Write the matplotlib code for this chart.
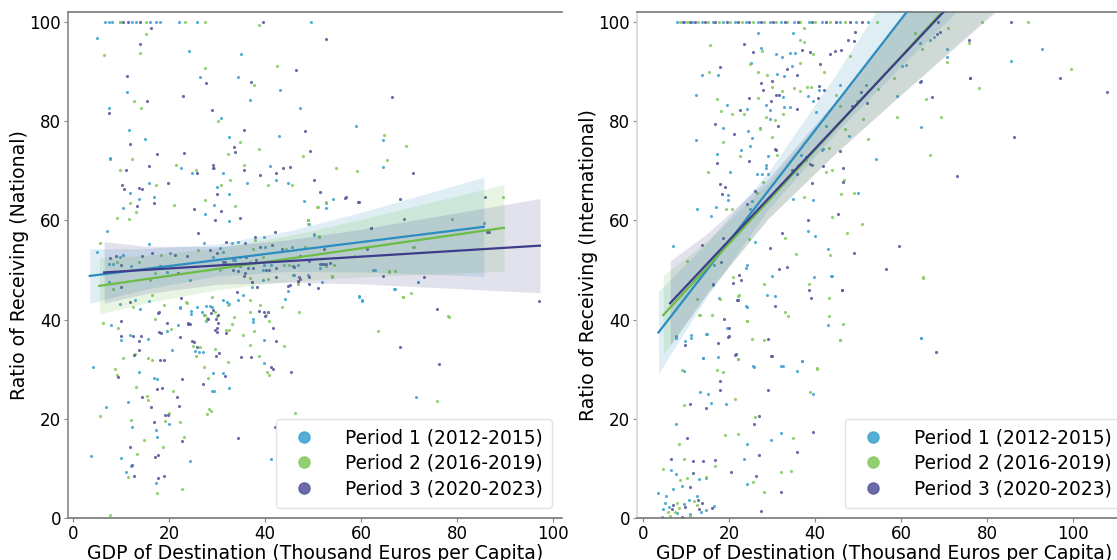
import numpy as np
import matplotlib
matplotlib.use("Agg")
from matplotlib import pyplot as plt
from matplotlib.lines import Line2D

# ---- scatter data (GDP in thousand euros per capita, ratio in %) ----
# National panel
nat_p1 = [(6.7, 100), (7.4, 100), (8.1, 100), (9.8, 100), (12.2, 100), (13.1, 100), (16.0, 100), (17.4, 100),
          (18.1, 100), (22.1, 100), (25.9, 100), (49.7, 100), (5.1, 96.7), (24.2, 94.2), (35.1, 93.5), (26.5, 88.8),
          (34.4, 88.8), (43.2, 86.2), (11.3, 85.8), (36.9, 84.3), (7.6, 82.7), (47.4, 82.7), (30.8, 80.6), (11.7, 78.3),
          (15.1, 76.3), (22.6, 70.6), (7.8, 72.6), (7.8, 72.3), (32.6, 76.9), (43.0, 77.1), (59.0, 79.0), (64.5, 76.1),
          (64.6, 70.8), (31.2, 69.5), (24.7, 69.5), (41.1, 71.0), (42.4, 68.2), (44.9, 67.5), (36.2, 67.5), (32.6, 65.3),
          (30.1, 66.8), (15.8, 67.5), (11.9, 65.6), (16.9, 64.7), (13.8, 64.4), (10.4, 62.5), (29.3, 63.1), (27.6, 61.3),
          (32.6, 59.8), (48.2, 64.0), (52.7, 62.5), (52.7, 63.5), (54.2, 64.4), (85.6, 59.4), (50.2, 57.3),
          (3.75, 12.4), (4.2, 30.4), (6.8, 22.4), (7.9, 39.0), (9.9, 35.9), (9.9, 12.0), (9.8, 43.2), (11.4, 23.3),
          (12.1, 10.5), (11.1, 9.2), (12.3, 18.3), (11.8, 36.8), (13.75, 29.4), (15.6, 36.1), (16.8, 28.3), (17.5, 28.1),
          (17.4, 17.7), (17.6, 16.4), (17.4, 7.1), (20.0, 19.0), (24.4, 11.4), (20.7, 33.9), (19.6, 37.7), (21.9, 39.0),
          (22.4, 42.4), (24.6, 41.8), (24.6, 41.1), (25.8, 42.6), (25.5, 33.7), (26.2, 33.5), (27.1, 33.5), (26.9, 41.6),
          (27.8, 39.8), (27.7, 42.8), (28.5, 42.7), (29.0, 42.5), (29.2, 29.2), (28.9, 25.7), (29.3, 25.6), (31.3, 29.3),
          (32.6, 26.3), (32.1, 43.5), (32.6, 43.2), (34.4, 44.0), (37.6, 40.1), (37.6, 39.6), (39.9, 35.8), (39.8, 31.3),
          (41.25, 11.9), (44.2, 44.1), (44.9, 45.8), (45.9, 49.0), (49.0, 48.9), (51.9, 47.6), (59.6, 44.8), (60.2, 44.0),
          (62.6, 50.0), (67.0, 46.2), (71.9, 47.6), (71.5, 24.3), (30.6, 54.4), (31.3, 53.7), (33.1, 55.4), (34.3, 55.6),
          (39.7, 56.7), (40.1, 54.6), (45.7, 54.6), (46.9, 51.1), (41.2, 51.0), (39.8, 51.1), (39.5, 50.0), (34.8, 52.7),
          (33.8, 52.0), (33.4, 52.1), (37.2, 47.6), (37.4, 46.6), (46.0, 49.0), (51.4, 50.3), (50.2, 57.1), (62.9, 50.0),
          (66.9, 46.2), (59.6, 44.6), (60.3, 43.7), (48.9, 60.1), (49.1, 59.2), (71.9, 47.5), (5.1, 53.7), (7.4, 51.3),
          (9.8, 52.7), (10.5, 53.0), (8.4, 51.3), (7.6, 47.5), (12.0, 50.7), (15.8, 55.2), (20.3, 53.5), (19.5, 49.5),
          (24.4, 47.9), (27.2, 55.4), (29.2, 52.7), (12.9, 43.9), (14.0, 42.1), (15.8, 43.8), (22.3, 42.5), (27.2, 40.9),
          (31.3, 43.9), (35.5, 44.9), (39.65, 47.9), (7.0, 57.9)]
nat_p2 = [(9.8, 100), (15.2, 100), (23.3, 100), (27.6, 100), (38.8, 99.4), (6.5, 93.3), (15.2, 97.6), (13.9, 93.7),
          (27.6, 90.7), (42.6, 91.1), (37.8, 87.2), (12.8, 84.0), (14.2, 82.7), (30.3, 80.0), (21.5, 71.2), (9.8, 70.2),
          (12.4, 72.4), (34.9, 75.8), (32.4, 73.4), (38.8, 74.4), (47.9, 72.9), (64.9, 77.3), (65.4, 72.2), (69.4, 74.9),
          (54.9, 70.6), (59.2, 70.0), (29.4, 70.5), (25.6, 70.1), (35.7, 71.2), (45.7, 67.2), (40.6, 67.2), (32.8, 68.2),
          (30.8, 67.1), (17.4, 67.2), (11.8, 63.4), (13.2, 61.7), (27.6, 64.2), (33.8, 62.9), (21.0, 63.0), (9.1, 60.5),
          (11.7, 60.2), (51.0, 62.6), (79.0, 60.3), (89.6, 64.7), (71.0, 54.6), (49.0, 59.2), (49.0, 60.0), (51.3, 56.8),
          (5.6, 20.5), (6.25, 39.3), (7.8, 0.7), (8.8, 30.0), (9.2, 28.9), (9.3, 38.3), (10.4, 32.3), (11.5, 8.3),
          (12.1, 19.8), (13.3, 12.9), (13.0, 33.1), (13.1, 26.4), (15.4, 24.5), (15.6, 23.8), (14.7, 15.7), (15.6, 32.2),
          (16.4, 31.9), (17.6, 5.1), (18.8, 14.3), (19.1, 19.5), (20.0, 21.2), (20.9, 25.7), (22.3, 19.3), (23.2, 16.4),
          (22.7, 5.9), (17.1, 40.1), (20.5, 38.0), (23.5, 43.5), (25.0, 34.6), (26.4, 34.4), (25.6, 32.7), (27.6, 41.0),
          (27.8, 40.0), (27.3, 30.5), (28.1, 28.3), (28.4, 21.9), (27.9, 20.9), (28.8, 21.6), (29.6, 34.0), (30.0, 40.8),
          (29.6, 41.5), (31.8, 37.8), (32.6, 37.9), (32.4, 31.4), (33.1, 39.1), (33.5, 40.6), (35.5, 36.8), (37.8, 37.6),
          (36.9, 34.9), (36.8, 41.5), (38.8, 32.6), (38.96, 43.0), (40.3, 41.0), (40.9, 39.8), (40.8, 28.8), (40.4, 29.4),
          (44.0, 34.6), (46.3, 21.1), (47.1, 41.5), (43.5, 42.5), (46.8, 47.6), (46.9, 47.1), (53.9, 48.8), (54.4, 51.1),
          (63.6, 37.6), (65.9, 49.7), (67.0, 49.8), (68.75, 44.6), (70.4, 45.3), (75.8, 23.5), (78.3, 40.6), (37.9, 56.0),
          (37.6, 54.2), (39.65, 52.7), (44.4, 54.2), (48.4, 54.6), (45.0, 51.1), (43.9, 51.1), (36.9, 51.7), (32.4, 51.3),
          (33.8, 50.7), (30.6, 50.0), (36.9, 48.3), (54.0, 48.6), (52.7, 50.8), (51.3, 56.7), (52.7, 63.6), (50.9, 62.6),
          (65.9, 49.5), (58.5, 52.8), (70.9, 54.6), (78.9, 60.2), (68.7, 44.6), (78.2, 40.8), (9.1, 51.7), (8.4, 46.1),
          (13.75, 51.7), (18.3, 53.0), (17.1, 49.3), (16.0, 47.9), (26.0, 54.0), (12.6, 42.6), (16.4, 44.9), (19.0, 42.9),
          (23.7, 43.3), (28.9, 44.6), (28.0, 40.4), (32.4, 42.9), (36.9, 43.9), (40.7, 48.2), (5.7, 55.5)]
nat_p3 = [(10.5, 100), (11.5, 100), (14.0, 100), (39.5, 100), (16.3, 98.8), (13.9, 95.6), (46.5, 90.3), (52.8, 96.5),
          (11.3, 89.0), (27.7, 87.6), (37.1, 87.8), (66.5, 84.8), (15.5, 84.1), (23.0, 85.1), (7.4, 81.7), (29.0, 82.2),
          (11.8, 75.3), (17.6, 73.3), (23.1, 73.5), (15.8, 71.0), (11.1, 70.1), (35.6, 78.3), (33.5, 74.8), (33.7, 73.8),
          (48.4, 78.0), (49.4, 74.0), (70.9, 69.6), (29.1, 71.2), (29.1, 70.5), (25.9, 69.6), (35.6, 70.2), (42.3, 69.5),
          (43.7, 70.5), (45.2, 70.7), (39.0, 69.1), (30.0, 65.3), (19.9, 67.6), (13.75, 66.5), (14.4, 66.3), (10.3, 67.2),
          (10.6, 66.4), (16.9, 63.4), (13.3, 62.8), (25.2, 62.2), (30.8, 61.8), (29.6, 60.0), (34.8, 60.4), (51.4, 65.7),
          (50.2, 68.1), (56.8, 64.7), (59.6, 63.8), (68.2, 64.4), (68.9, 60.3), (62.0, 58.5), (85.8, 64.7), (86.3, 57.6),
          (42.1, 57.6), (9.4, 28.5), (10.1, 39.8), (9.9, 36.7), (11.9, 14.4), (12.8, 8.5), (12.2, 10.7), (12.6, 36.7),
          (14.1, 36.7), (13.75, 35.6), (12.7, 32.8), (13.7, 33.9), (14.4, 24.3), (17.6, 26.1), (18.5, 26.2), (16.3, 22.4),
          (16.8, 19.4), (17.1, 12.2), (17.8, 12.7), (17.7, 8.1), (18.9, 8.5), (19.2, 20.8), (19.7, 20.7), (21.6, 24.3),
          (22.1, 22.6), (22.7, 15.5), (22.7, 28.1), (18.9, 31.9), (18.1, 31.9), (18.3, 37.2), (17.9, 37.5), (18.0, 41.5),
          (19.6, 39.4), (22.2, 36.4), (24.0, 39.1), (24.0, 39.4), (24.8, 35.7), (25.3, 35.4), (25.8, 34.4), (28.2, 40.2),
          (28.7, 41.3), (27.1, 27.0), (29.6, 37.8), (30.0, 37.5), (29.9, 32.6), (29.8, 40.2), (30.2, 39.3), (30.1, 38.2),
          (30.5, 33.2), (31.6, 28.7), (31.8, 37.3), (34.3, 16.2), (35.1, 32.4), (37.1, 32.5), (38.7, 41.8), (39.8, 41.5),
          (40.1, 40.7), (40.6, 41.5), (41.25, 30.5), (41.6, 30.0), (41.6, 38.3), (42.2, 35.6), (42.1, 18.4), (45.5, 29.4),
          (45.2, 47.0), (44.9, 46.7), (47.1, 48.5), (47.4, 48.2), (49.2, 47.1), (51.0, 46.3), (51.9, 51.3), (52.8, 51.3),
          (64.6, 48.8), (68.2, 34.4), (73.1, 48.6), (75.8, 42.2), (76.2, 31.0), (97.2, 43.7), (31.8, 55.6), (35.8, 55.4),
          (37.9, 56.7), (38.96, 54.6), (36.0, 52.7), (38.1, 52.0), (41.4, 55.0), (43.6, 54.2), (47.3, 52.8), (49.2, 51.8),
          (45.9, 50.8), (46.1, 50.5), (42.4, 50.3), (40.2, 50.0), (40.9, 50.0), (37.6, 50.3), (36.5, 50.3), (31.7, 51.7),
          (31.2, 51.7), (33.3, 50.0), (34.4, 49.8), (34.9, 50.7), (35.7, 48.8), (37.4, 47.6), (35.8, 49.4), (42.3, 48.5),
          (46.8, 47.8), (49.1, 48.6), (51.5, 51.3), (52.4, 51.3), (53.5, 51.4), (52.4, 54.2), (62.0, 58.4), (61.3, 54.2),
          (56.7, 64.6), (59.4, 63.8), (86.7, 57.6), (7.7, 52.5), (8.9, 52.9), (10.1, 51.0), (10.1, 46.5), (14.3, 52.8),
          (16.4, 53.4), (21.2, 53.0), (18.1, 50.7), (21.9, 49.3), (23.7, 52.8), (26.1, 57.4), (28.6, 54.0), (30.0, 53.4),
          (24.4, 39.2), (11.9, 43.6), (17.8, 41.3), (22.6, 44.4), (29.2, 41.9), (30.3, 40.9), (34.1, 45.6), (38.3, 46.5)]

# International panel
int_p1 = [(7.8, 100), (9.5, 100), (11.5, 100), (13.8, 100), (16.2, 100), (18.5, 100), (21.4, 100), (24.0, 100),
          (26.8, 100), (29.5, 100), (32.0, 100), (35.2, 100), (38.6, 100), (41.7, 100), (45.8, 100), (49.5, 100),
          (52.3, 100), (92.7, 94.5), (85.5, 92.1), (64.6, 78.8), (59.0, 85.1), (54.2, 72.3), (70.8, 94.5), (70.8, 93.0),
          (67.6, 97.0), (64.4, 95.8), (64.6, 36.2), (43.8, 48.8), (43.1, 39.0), (39.5, 25.0), (37.0, 31.7), (35.9, 29.7),
          (32.0, 17.1), (32.1, 30.6), (29.8, 15.7), (24.1, 6.8), (24.2, 14.9), (23.6, 11.9), (25.7, 30.5), (24.1, 42.6),
          (17.4, 32.4), (16.3, 47.0), (19.3, 22.9), (14.7, 37.0), (14.0, 32.3), (11.2, 36.3), (7.7, 36.3), (13.3, 25.5),
          (15.0, 24.9), (15.9, 23.1), (7.7, 18.9), (6.5, 9.6), (7.7, 8.9), (13.0, 7.9), (14.7, 8.0), (3.6, 5.1),
          (5.3, 4.4), (4.7, 1.8), (4.3, 0.2), (14.7, 1.6), (10.6, 3.6), (5.0, 3.0), (6.0, 2.2), (8.0, 1.0), (9.5, 2.8),
          (11.0, 0.8), (12.5, 4.5), (16.5, 2.5), (7.0, 5.8), (9.0, 6.5), (13.5, 1.2),
          (26.7, 97.7), (35.0, 97.7), (27.4, 94.7), (30.9, 93.5), (32.3, 93.0), (34.3, 93.8), (35.4, 93.8), (25.0, 91.8),
          (13.7, 89.3), (17.4, 89.4), (31.2, 89.5), (34.7, 91.2), (32.9, 89.0), (32.6, 84.8), (40.9, 86.2), (38.3, 85.1),
          (39.5, 84.1), (12.3, 85.3), (19.6, 83.3), (24.1, 82.5), (28.6, 83.2), (29.6, 82.2), (32.9, 82.8), (34.3, 82.8),
          (29.5, 80.4), (27.3, 78.6), (18.7, 78.6), (12.3, 76.2), (22.8, 74.2), (17.1, 73.4), (20.3, 69.7), (24.5, 78.0),
          (25.3, 76.7), (24.9, 75.0), (29.1, 73.0), (28.5, 71.2), (28.5, 70.5), (19.8, 64.2), (19.8, 65.2), (16.9, 62.6),
          (12.6, 62.2), (15.7, 60.8), (26.6, 69.3), (27.7, 69.3), (29.1, 69.3), (25.3, 63.9), (24.9, 62.2), (36.7, 73.1),
          (41.8, 74.4), (41.6, 74.2), (34.9, 64.3), (39.6, 64.1), (50.1, 65.6), (40.2, 81.8), (42.5, 79.0), (45.8, 87.3),
          (47.9, 77.0), (51.8, 87.2), (60.2, 91.1), (61.2, 91.3), (66.7, 96.3), (6.9, 54.9), (9.7, 35.6),
          (7.7, 36.6), (11.2, 36.8), (14.8, 37.0), (19.6, 38.4), (14.0, 32.2), (25.6, 30.6), (32.5, 30.6),
          (36.9, 31.6), (9.5, 29.6), (16.5, 50.9), (26.1, 55.7), (23.9, 50.3), (24.3, 51.1), (17.6, 44.4),
          (23.9, 42.8), (28.8, 44.9), (30.6, 44.8), (30.1, 48.8), (38.4, 57.8), (39.9, 56.9), (39.8, 48.5), (43.1, 54.2),
          (43.9, 48.7), (64.6, 36.3)]
int_p2 = [(8.6, 100), (10.3, 100), (12.7, 100), (15.0, 100), (17.7, 100), (20.2, 100), (23.0, 100), (25.5, 100),
          (28.2, 100), (31.0, 100), (33.6, 100), (36.5, 100), (40.0, 100), (43.5, 100), (47.0, 100), (54.4, 100),
          (78.9, 100), (89.6, 100), (99.5, 90.5), (75.8, 95.7), (78.1, 86.6), (66.8, 73.1), (65.8, 84.5), (69.2, 80.8),
          (59.1, 80.8), (70.8, 92.0), (70.9, 98.7), (64.9, 97.7), (65.2, 48.3), (46.4, 39.1), (45.9, 35.8), (43.2, 44.3),
          (38.9, 25.4), (40.4, 30.1), (34.9, 16.1), (34.4, 9.4), (32.0, 9.2), (28.2, 35.8), (26.1, 20.3), (25.6, 7.2),
          (28.2, 5.2), (25.4, 36.1), (24.3, 39.8), (22.2, 44.8), (22.2, 44.0), (21.0, 48.5), (22.1, 32.0), (21.5, 23.9),
          (22.1, 16.9), (17.9, 44.2), (18.6, 29.5), (19.0, 16.8), (13.2, 41.0), (16.1, 41.0), (9.1, 29.8), (9.5, 22.8),
          (8.4, 14.9), (9.6, 11.8), (16.8, 10.5), (4.7, 9.9), (10.2, 8.0), (14.6, 8.2), (8.6, 7.7), (5.7, 1.3),
          (7.4, 1.2), (6.2, 0.5), (10.9, 0.5), (12.6, 2.6), (7.8, 3.0), (8.4, 2.0), (11.8, 3.4),
          (15.6, 95.4), (37.5, 98.7), (36.4, 96.3), (37.4, 96.0), (27.7, 94.2), (39.6, 93.6), (42.0, 89.9), (48.2, 93.2),
          (24.9, 91.5), (15.3, 89.9), (26.7, 90.0), (28.8, 89.4), (36.5, 91.7), (30.1, 86.9), (32.3, 86.0), (35.2, 86.6),
          (36.6, 86.0), (38.1, 86.9), (39.0, 86.8), (17.2, 84.4), (18.2, 82.1), (20.6, 81.5), (23.6, 81.5), (26.8, 84.6),
          (32.6, 81.5), (28.5, 80.9), (30.7, 80.3), (22.6, 73.0), (18.7, 75.7), (15.2, 69.7), (30.1, 76.9), (31.1, 73.1),
          (27.2, 78.4), (19.3, 62.3), (20.7, 62.3), (28.0, 67.8), (26.6, 65.5), (37.8, 72.2), (36.0, 71.2), (43.2, 74.6),
          (42.5, 69.7), (43.9, 70.1), (46.8, 68.1), (37.5, 64.7), (46.0, 65.4), (49.0, 65.6), (44.9, 85.2), (45.7, 83.1),
          (46.9, 78.4), (49.7, 84.1), (51.1, 80.4), (52.3, 76.5), (54.6, 86.4), (58.4, 88.6), (63.3, 97.7), (64.8, 94.6),
          (10.3, 51.9), (12.5, 44.1), (13.1, 41.0), (22.0, 32.1), (40.5, 30.2), (17.3, 29.8), (24.7, 56.3), (22.4, 44.9),
          (24.3, 39.8), (28.2, 47.2), (33.0, 56.5), (33.0, 41.6), (33.7, 40.7), (35.5, 53.2), (38.6, 47.2), (44.0, 60.6),
          (47.4, 57.5), (43.5, 53.0), (43.3, 40.8), (45.8, 35.9), (51.0, 59.3), (65.1, 48.5)]
int_p3 = [(9.2, 100), (11.0, 100), (12.0, 100), (14.5, 100), (16.8, 100), (19.5, 100), (22.2, 100), (24.6, 100),
          (27.5, 100), (30.2, 100), (33.0, 100), (36.0, 100), (39.2, 100), (42.5, 100), (44.8, 100), (48.2, 100),
          (51.0, 100), (68.7, 100), (85.7, 100), (97.1, 88.6), (108.0, 85.8), (86.3, 76.9), (73.1, 69.0), (75.8, 96.4),
          (76.1, 88.6), (64.6, 88.0), (67.3, 84.9), (69.1, 98.0), (68.1, 33.4), (46.3, 46.0), (39.5, 17.3), (35.7, 13.4),
          (32.2, 5.2), (29.1, 36.0), (29.8, 32.7), (29.1, 25.9), (26.9, 20.6), (25.7, 19.0), (26.9, 12.7), (26.2, 8.5),
          (27.4, 1.5), (20.5, 9.2), (22.0, 44.0), (22.7, 48.0), (21.6, 33.0), (19.9, 36.6), (19.9, 38.2), (17.4, 35.3),
          (17.9, 27.7), (17.9, 25.8), (9.8, 34.9), (14.7, 22.2), (11.0, 22.9), (10.2, 16.1), (6.4, 11.8), (11.7, 11.4),
          (14.0, 11.4), (16.7, 11.6), (11.6, 9.1), (10.9, 6.3), (6.7, 1.9), (9.1, 0.3), (13.0, 1.8), (13.7, 3.0),
          (16.0, 2.1), (9.8, 2.2), (7.0, 2.6), (12.7, 3.6),
          (23.6, 95.5), (49.3, 97.9), (47.6, 96.3), (49.0, 96.1), (25.5, 93.9), (37.0, 94.4), (38.8, 93.9), (41.2, 91.5),
          (43.4, 93.5), (44.7, 94.1), (46.1, 94.3), (17.9, 91.0), (33.4, 90.5), (35.7, 89.4), (30.1, 88.0), (28.0, 86.2),
          (27.4, 87.6), (31.0, 85.3), (31.6, 85.2), (41.0, 87.1), (42.0, 86.2), (40.6, 84.6), (24.7, 84.6), (22.5, 82.2),
          (29.8, 84.1), (35.7, 82.4), (31.5, 79.0), (16.7, 79.5), (21.2, 77.4), (17.1, 71.6), (24.7, 72.0), (30.8, 74.4),
          (31.0, 74.2), (17.8, 67.3), (19.1, 66.8), (18.4, 65.3), (26.0, 66.0), (24.1, 63.2), (34.7, 70.2), (35.7, 69.3),
          (38.8, 71.4), (39.4, 71.2), (38.0, 72.8), (41.8, 70.9), (45.8, 74.0), (46.5, 70.6), (39.4, 67.6), (46.6, 67.8),
          (48.7, 83.1), (50.8, 85.8), (52.1, 83.6), (68.3, 97.6), (64.4, 87.8), (76.0, 88.6),
          (13.8, 55.0), (16.3, 47.2), (18.8, 40.2), (19.8, 36.5), (21.5, 32.9), (29.9, 32.6), (18.1, 51.6),
          (18.5, 56.5), (22.4, 48.9), (21.0, 47.4), (21.9, 44.0), (30.8, 42.7), (29.6, 54.5), (32.4, 57.5), (31.7, 50.2),
          (33.6, 50.6), (38.4, 60.0), (38.7, 45.9), (39.1, 44.4), (45.3, 61.3), (49.1, 53.5), (46.3, 45.9), (56.6, 50.2),
          (59.5, 54.8)]

# ---- fitted lines and 95% bands ----
nat_fit = {
    "p1": dict(line_x=[3.5, 85.6], line_y=[48.8, 58.7], band_x=[3.5, 15, 30, 45, 60, 85.6],
               lo=[43.3, 46.1, 48.8, 49.7, 49.6, 48.7], hi=[54.3, 54.3, 55.2, 57.9, 61.6, 68.7]),
    "p2": dict(line_x=[5.5, 89.8], line_y=[46.8, 58.5], band_x=[5.5, 15, 30, 45, 60, 89.8],
               lo=[41.1, 43.3, 46.0, 47.7, 48.6, 49.75], hi=[52.5, 52.9, 54.4, 56.9, 60.2, 67.25]),
    "p3": dict(line_x=[6.5, 97.3], line_y=[49.5, 54.9], band_x=[6.5, 15, 30, 45, 60, 97.3],
               lo=[43.3, 45.2, 47.1, 47.5, 47.2, 45.4], hi=[55.7, 54.8, 54.7, 56.1, 58.2, 64.4]),
}
int_fit = {
    "p1": dict(line_x=[3.6, 75], line_y=[37.4, 117.3], band_x=[3.6, 15, 29, 45, 60, 75],
               lo=[29.1, 44.8, 62.1, 77.8, 91.1, 103.8], hi=[45.7, 55.6, 69.5, 89.6, 109.9, 130.8]),
    "p2": dict(line_x=[4.7, 95], line_y=[40.9, 126.0], band_x=[4.7, 15, 29, 45, 60, 80, 95],
               lo=[32.9, 45.3, 60.2, 73.7, 85.4, 100.9, 112.5], hi=[48.9, 55.9, 67.4, 84.1, 100.6, 122.9, 139.5]),
    "p3": dict(line_x=[6.3, 95], line_y=[43.3, 125.2], band_x=[6.3, 15, 29, 45, 60, 80, 95],
               lo=[34.8, 45.4, 60.3, 73.7, 85.3, 100.5, 111.9], hi=[51.8, 57.4, 68.3, 84.3, 100.5, 122.1, 138.5]),
}

periods = ["Period 1 (2012-2015)", "Period 2 (2016-2019)", "Period 3 (2020-2023)"]
dot_colors = {"p1": "#45a5d0", "p2": "#86cb62", "p3": "#5b5b9e"}
line_colors = {"p1": "#2b8dc0", "p2": "#6cbd45", "p3": "#3d3d8c"}

W, H = 1117, 560
fig = plt.figure(figsize=(W / 100, H / 100), dpi=100)
ax1 = fig.add_axes([68 / W, 42 / H, 494 / W, 506 / H])
ax2 = fig.add_axes([637 / W, 42 / H, 494 / W, 506 / H])


def draw_panel(ax, points, fits, ylabel, xlim):
    for key in ["p1", "p2", "p3"]:
        pts = np.array(points[key])
        ax.scatter(pts[:, 0], pts[:, 1], s=5, color=dot_colors[key], alpha=0.9, linewidths=0, zorder=2)
        f = fits[key]
        ax.fill_between(f["band_x"], f["lo"], f["hi"], color=line_colors[key], alpha=0.15, linewidth=0, zorder=3)
        ax.plot(f["line_x"], f["line_y"], color=line_colors[key], lw=1.6, zorder=4)

    ax.set_xlim(*xlim)
    ax.set_ylim(0, 102)
    ax.set_xticks([0, 20, 40, 60, 80, 100])
    ax.set_yticks([0, 20, 40, 60, 80, 100])
    ax.tick_params(labelsize=12, length=3, color="#888888", pad=2)
    ax.set_xlabel("GDP of Destination (Thousand Euros per Capita)", fontsize=13.6, labelpad=1)
    ax.set_ylabel(ylabel, fontsize=13.6, labelpad=0)
    ax.spines["right"].set_visible(False)
    for side in ["top", "bottom"]:
        ax.spines[side].set_color("#777777")
        ax.spines[side].set_linewidth(1.2)

    handles = [Line2D([], [], ls="", marker="o", markersize=8, color=dot_colors[k], alpha=0.9)
               for k in ["p1", "p2", "p3"]]
    ax.legend(handles, periods, loc="lower right", fontsize=13.4, handletextpad=1.2,
              borderpad=0.5, labelspacing=0.35, framealpha=0.8, edgecolor="#dddddd",
              bbox_to_anchor=(1.0, 0.0), borderaxespad=0.55)


draw_panel(ax1, {"p1": nat_p1, "p2": nat_p2, "p3": nat_p3}, nat_fit,
           "Ratio of Receiving (National)", (-1.04, 101.9))
draw_panel(ax2, {"p1": int_p1, "p2": int_p2, "p3": int_p3}, int_fit,
           "Ratio of Receiving (International)", (-1.4, 113.5))

ax1.spines["left"].set_color("#888888")
ax1.spines["left"].set_linewidth(1.2)
ax2.spines["left"].set_color("#d8d8d8")
ax2.spines["left"].set_linewidth(1.2)

fig.savefig("out.png", dpi=100)
